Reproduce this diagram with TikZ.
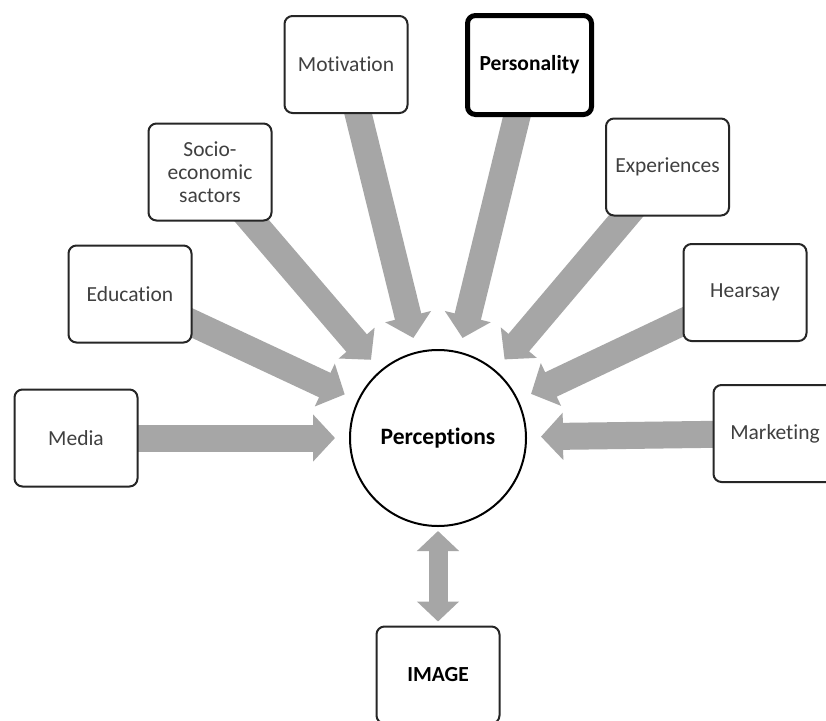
\documentclass[tikz,border=0pt]{standalone}
\usepackage{fontspec}
\setmainfont{Carlito}[Ligatures=NoCommon]
\usetikzlibrary{arrows.meta}
\pgfdeclarelayer{bg}
\pgfsetlayers{bg,main}
\definecolor{arrowgray}{RGB}{166,166,166}
\definecolor{textgray}{RGB}{64,64,64}
\definecolor{boxline}{RGB}{38,38,38}
\begin{document}
\begin{tikzpicture}[x=1pt,y=-1pt,
  factor/.style={draw=boxline, line width=2pt, rounded corners=8pt, fill=white,
    minimum width=123pt, minimum height=97pt, inner sep=2pt, align=center,
    text=textgray, font=\fontsize{21.5}{23}\selectfont},
  keybox/.style={factor, line width=5pt, draw=black, minimum width=124pt, minimum height=99pt,
    text=black, font=\fontsize{21.5}{23}\selectfont\bfseries},
  hub/.style={circle, draw=black, line width=2pt, fill=white, minimum size=176pt, inner sep=0pt,
    font=\fontsize{23.5}{25}\selectfont\bfseries},
  blockarrow/.style={draw=arrowgray, line width=27pt, shorten >=14pt,
    -{Triangle[length=22pt, width=46pt, fill=arrowgray]}},
  duoarrow/.style={draw=arrowgray, line width=19pt, shorten >=4pt, shorten <=4pt,
    {Triangle[length=20pt, width=41pt, fill=arrowgray]}-{Triangle[length=20pt, width=41pt, fill=arrowgray]}}
]
\clip (0,0) rectangle (826,720);

\node[hub] (perc) at (438,438) {Perceptions};

\node[factor] (media) at (76,438) {Media};
\node[factor] (educ) at (130,294) {Education};
\node[factor] (socio) at (210,172) {Socio-\\economic\\sactors};
\node[factor] (motiv) at (346,64.5) {Motivation};
\node[keybox] (pers) at (529.5,65) {Personality};
\node[factor] (exper) at (667.5,167) {Experiences};
\node[factor] (hears) at (745,292.5) {Hearsay};
\node[factor] (market) at (775,433.5) {Marketing};
\node[factor, text=black, font=\fontsize{21.5}{23}\selectfont\bfseries] (image) at (438,675) {IMAGE};

\begin{pgfonlayer}{bg}
\fill[white] (0,0) rectangle (826,720);
\foreach \src in {media,educ,socio,motiv,pers,exper,hears,market}
  \draw[blockarrow] (\src.center) -- (perc);
\draw[duoarrow] (perc) -- (image);
\end{pgfonlayer}
\end{tikzpicture}
\end{document}
